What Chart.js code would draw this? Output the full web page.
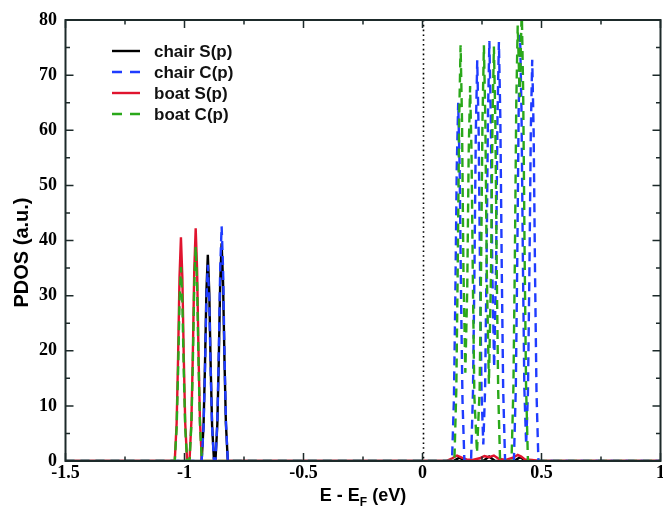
<!DOCTYPE html>
<html><head><meta charset="utf-8">
<script src="https://cdn.jsdelivr.net/npm/chart.js@4.4.0/dist/chart.umd.min.js"></script>
<style>html,body{margin:0;padding:0;background:#fff;}</style>
</head><body>
<canvas id="c" width="663" height="511"></canvas>
<script>
// ---- data ----
const seriesNames = ['chair S(p)', 'chair C(p)', 'boat S(p)', 'boat C(p)'];
const xTicks = [-1.5, -1, -0.5, 0, 0.5, 1];
const xTickLabels = ['-1.5', '-1', '-0.5', '0', '0.5', '1'];
const yTicks = [0, 10, 20, 30, 40, 50, 60, 70, 80];

const chairS_x = [-1.5,
  -0.928, -0.920, -0.914, -0.908, -0.902, -0.896, -0.890, -0.884, -0.876,
  -0.870, -0.862, -0.856, -0.850, -0.844, -0.838, -0.832, -0.826, -0.818,
  0.130, 0.155, 0.180, 0.255, 0.280, 0.305, 0.385, 0.410, 0.435, 1];
const chairS_y = [0,
  0, 6.4, 17.2, 30.7, 37.4, 30.7, 17.2, 6.4, 0,
  0, 6.7, 18.2, 32.4, 39.5, 32.4, 18.2, 6.7, 0,
  0, 0.6, 0, 0, 0.8, 0, 0, 0.7, 0, 0];

const chairC_x = [-1.5,
  -0.928, -0.920, -0.914, -0.908, -0.902, -0.896, -0.890, -0.884, -0.876,
  -0.870, -0.862, -0.856, -0.850, -0.844, -0.838, -0.832, -0.826, -0.818,
  0.124, 0.132, 0.138, 0.144, 0.150, 0.156, 0.162, 0.168, 0.176,
  0.204, 0.212, 0.218, 0.224, 0.230, 0.236, 0.242, 0.248, 0.2555, 0.263, 0.269, 0.275, 0.281,
  0.287, 0.293, 0.301, 0.309, 0.315, 0.321, 0.327, 0.333, 0.339, 0.347,
  0.384, 0.392, 0.398, 0.404, 0.410, 0.416, 0.422, 0.428, 0.4355, 0.443, 0.449, 0.455, 0.461,
  0.467, 0.473, 0.479, 0.487, 1];
const chairC_y = [0,
  0, 6.1, 16.4, 29.2, 35.6, 29.2, 16.4, 6.1, 0,
  0, 7.2, 19.6, 34.9, 42.6, 34.9, 19.6, 7.2, 0,
  0, 11.1, 29.9, 53.3, 65.0, 53.3, 29.9, 11.1, 0,
  0, 12.4, 33.4, 59.6, 72.7, 59.6, 33.4, 12.4, 3, 13.0, 35.1, 62.5, 76.2,
  62.5, 35.1, 17, 35.0, 62.3, 76.0, 62.3, 35.0, 12.9, 0,
  0, 13.1, 35.6, 63.4, 77.3, 63.4, 35.6, 13.1, 3, 12.4, 33.5, 59.7, 72.8,
  59.7, 33.5, 12.4, 0, 0];

const boatS_x = [-1.5,
  -1.041, -1.033, -1.027, -1.021, -1.015, -1.009, -1.003, -0.997, -0.989,
  -0.979, -0.971, -0.965, -0.959, -0.953, -0.947, -0.941, -0.935, -0.927,
  0.100, 0.125, 0.145, 0.165, 0.185, 0.210, 0.240, 0.260, 0.280, 0.300, 0.320, 0.350,
  0.380, 0.400, 0.415, 0.430, 0.460, 0.490, 1];
const boatS_y = [0,
  0, 6.9, 18.7, 33.3, 40.6, 33.3, 18.7, 6.9, 0,
  0, 7.2, 19.4, 34.6, 42.2, 34.6, 19.4, 7.2, 0,
  0, 0.5, 1.0, 0.6, 0.3, 0.2, 0.5, 0.9, 0.7, 1.0, 0.4, 0.2,
  0.6, 1.1, 0.8, 0.3, 0.2, 0, 0];

const boatC_x = [-1.5,
  -1.041, -1.033, -1.027, -1.021, -1.015, -1.009, -1.003, -0.997, -0.989,
  -0.979, -0.971, -0.965, -0.959, -0.953, -0.947, -0.941, -0.935, -0.927,
  0.134, 0.142, 0.148, 0.154, 0.160, 0.166, 0.172, 0.180, 0.188, 0.194, 0.200, 0.206, 0.212, 0.218,
  0.229, 0.240, 0.246, 0.252, 0.258, 0.264, 0.270, 0.279, 0.288, 0.294, 0.300, 0.306, 0.312, 0.318, 0.326,
  0.374, 0.382, 0.388, 0.394, 0.400, 0.4085, 0.417, 0.423, 0.429, 0.435, 0.443, 1];
const boatC_y = [0,
  0, 6.0, 16.2, 28.9, 35.2, 28.9, 16.2, 6.0, 0,
  0, 6.6, 17.9, 31.9, 38.9, 31.9, 17.9, 6.6, 0,
  0, 12.8, 34.7, 61.8, 75.4, 61.8, 34.7, 16, 31.3, 55.8, 68.0, 55.8, 31.3, 11.6,
  1.5, 12.8, 34.7, 61.8, 75.4, 61.8, 34.7, 14, 34.6, 61.7, 75.2, 61.7, 34.6, 12.8, 0,
  0, 13.4, 36.3, 64.8, 79.0, 66, 82, 67, 37.7, 13.9, 0, 0];

// ---- styles ----
const colors = ['#000000', '#1f3cff', '#e0142e', '#2aa81a'];
const dashes = [[], [9, 6], [], [9, 6]];
const orders = [3, 1, 2, 0];
const xs = [chairS_x, chairC_x, boatS_x, boatC_x];
const ys = [chairS_y, chairC_y, boatS_y, boatC_y];

const datasets = seriesNames.map((name, k) => ({
  label: name,
  data: xs[k].map((x, i) => ({ x: x, y: ys[k][i] })),
  borderColor: colors[k],
  borderWidth: 2.4,
  borderDash: dashes[k],
  pointRadius: 0,
  tension: 0,
  fill: false,
  clip: 0,
  order: orders[k]
}));

const frameColor = '#1d2a2a';

const zeroLine = {
  id: 'zeroLine',
  beforeDatasetsDraw(chart) {
    const { ctx, chartArea: a, scales: { x } } = chart;
    const px = Math.round(x.getPixelForValue(0)) + 0.5;
    ctx.save();
    ctx.strokeStyle = '#000';
    ctx.lineWidth = 1.6;
    ctx.setLineDash([1.6, 3.2]);
    ctx.beginPath(); ctx.moveTo(px, a.top); ctx.lineTo(px, a.bottom); ctx.stroke();
    ctx.restore();
  }
};

const frame = {
  id: 'frame',
  afterDraw(chart) {
    const { ctx, chartArea: a, scales: { x, y } } = chart;
    ctx.save();
    ctx.strokeStyle = frameColor;
    ctx.lineWidth = 1.5;
    ctx.beginPath();
    for (let v = -1.5; v <= 1.0001; v += 0.25) {
      const px = x.getPixelForValue(v);
      const major = Math.abs(v * 2 - Math.round(v * 2)) < 1e-6;
      const L = major ? 8 : 4.5;
      ctx.moveTo(px, a.bottom); ctx.lineTo(px, a.bottom - L);
      ctx.moveTo(px, a.top); ctx.lineTo(px, a.top + L);
    }
    for (let v = 0; v <= 80; v += 5) {
      const py = y.getPixelForValue(v);
      const L = (v % 10 === 0) ? 8 : 4.5;
      ctx.moveTo(a.left, py); ctx.lineTo(a.left + L, py);
      ctx.moveTo(a.right, py); ctx.lineTo(a.right - L, py);
    }
    ctx.stroke();
    ctx.lineWidth = 2;
    ctx.strokeRect(a.left, a.top, a.right - a.left, a.bottom - a.top);

    // axis titles
    ctx.fillStyle = '#000';
    ctx.font = 'bold 18px "Liberation Sans", Arial, sans-serif';
    ctx.textBaseline = 'alphabetic';
    const p1 = 'E - E', sub = 'F', p2 = ' (eV)';
    const w1 = ctx.measureText(p1).width, w3 = ctx.measureText(p2).width;
    ctx.font = 'bold 12px "Liberation Sans", Arial, sans-serif';
    const w2 = ctx.measureText(sub).width;
    const cx = (a.left + a.right) / 2;
    let sx = cx - (w1 + w2 + w3) / 2;
    const by = 501;
    ctx.font = 'bold 18px "Liberation Sans", Arial, sans-serif';
    ctx.textAlign = 'left';
    ctx.fillText(p1, sx, by);
    ctx.font = 'bold 12px "Liberation Sans", Arial, sans-serif';
    ctx.fillText(sub, sx + w1, by + 5);
    ctx.font = 'bold 18px "Liberation Sans", Arial, sans-serif';
    ctx.fillText(p2, sx + w1 + w2, by);

    ctx.save();
    ctx.translate(28, (a.top + a.bottom) / 2 + 12);
    ctx.rotate(-Math.PI / 2);
    ctx.textAlign = 'center';
    ctx.font = 'bold 20px "Liberation Sans", Arial, sans-serif';
    ctx.fillText('PDOS (a.u.)', 0, 0);
    ctx.restore();

    // legend
    ctx.font = 'bold 17px "Liberation Sans", Arial, sans-serif';
    ctx.textAlign = 'left';
    ctx.textBaseline = 'middle';
    seriesNames.forEach((name, k) => {
      const ly = 51 + k * 21;
      ctx.save();
      ctx.strokeStyle = colors[k];
      ctx.lineWidth = 2.4;
      ctx.setLineDash(dashes[k].length ? [10, 8] : []);
      ctx.beginPath(); ctx.moveTo(112, ly); ctx.lineTo(140, ly); ctx.stroke();
      ctx.restore();
      ctx.fillStyle = '#111';
      ctx.fillText(name, 154, ly + 1);
    });
    ctx.restore();
  }
};

const tickFont = { family: '"Liberation Serif", "Times New Roman", serif', weight: 'bold', size: 18 };

new Chart(document.getElementById('c'), {
  type: 'line',
  data: { datasets: datasets },
  options: {
    responsive: false,
    animation: false,
    events: [],
    layout: { padding: { left: 0, right: 2.5, top: 20, bottom: 0 } },
    plugins: { legend: { display: false }, tooltip: { enabled: false } },
    scales: {
      x: {
        type: 'linear', min: -1.5, max: 1,
        grid: { display: false, drawTicks: false },
        border: { display: false },
        afterBuildTicks: s => { s.ticks = xTicks.map(v => ({ value: v })); },
        ticks: {
          font: tickFont, color: '#000', padding: 2, maxRotation: 0, autoSkip: false,
          callback: (v) => xTickLabels[xTicks.indexOf(v)]
        },
        afterFit: s => { s.height = 50; s.paddingLeft = 0; s.paddingRight = 0; }
      },
      y: {
        type: 'linear', min: 0, max: 80,
        grid: { display: false, drawTicks: false },
        border: { display: false },
        afterBuildTicks: s => { s.ticks = yTicks.map(v => ({ value: v })); },
        ticks: { font: tickFont, color: '#000', padding: 8.5, callback: (v) => String(v) },
        afterFit: s => { s.width = 65.5; s.paddingTop = 0; s.paddingBottom = 0; }
      }
    }
  },
  plugins: [zeroLine, frame]
});
</script>
</body></html>
